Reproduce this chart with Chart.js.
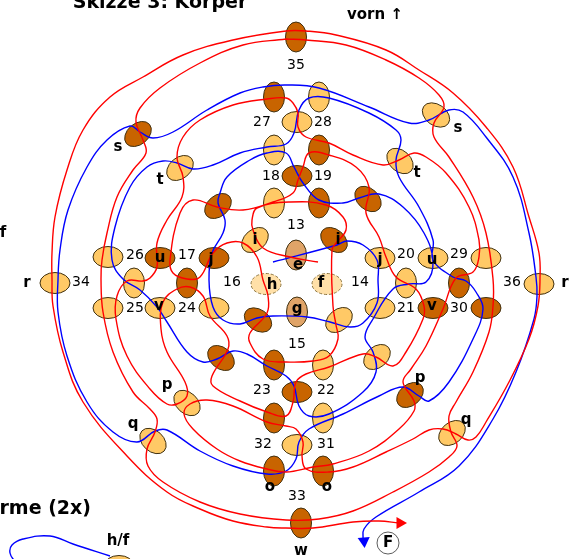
<!DOCTYPE html>
<html><head><meta charset="utf-8">
<style>html,body{margin:0;padding:0;background:#fff;overflow:hidden}canvas{display:block}</style>
<script src="https://cdn.jsdelivr.net/npm/chart.js@4"></script>
</head><body><canvas id="c" width="572" height="559"></canvas>
<script>
// stitches: [x, y, tilt in degrees]
const darkStitches=[[296,37,90],[274,97,90],[319,150,90],[297,176,0],[319,203,90],[138,134,-40],[218,206,-40],[368,199,42],[334,240,40],[160,258,0],[214,258,0],[187,283,90],[459,283,90],[433,308,0],[486,308,0],[258,320,35],[221,358,40],[274,365,90],[297,392,0],[274,418,90],[274,471,90],[323,471,90],[410,395,-40],[301,523,90]];
const lightStitches=[[319,97,90],[297,122,0],[274,150,90],[274,203,90],[436,115,35],[180,168,-40],[400,161,42],[255,240,-40],[108,257,0],[380,258,0],[433,258,0],[486,258,0],[55,283,0],[134,283,90],[406,283,90],[539,284,0],[108,308,0],[160,308,0],[214,308,0],[380,308,0],[339,320,-40],[377,357,-40],[323,365,90],[323,418,90],[297,445,0],[187,403,42],[153,441,42],[452,433,-40],[119,566,0]];
const midStitches=[[296,255,90],[297,312,90]];
const paleStitches=[[266,284,0],[327,284,0]];
// yarn paths
const redOuter=[[318,262],[290,257],[263,248],[253,230],[252,220],[257,208],[290,202],[326,205],[343,217],[346,230],[337,242],[332,250],[333,306],[336,325],[338,339],[329,356],[313,361],[286,362],[263,359],[250,343],[250,333],[267,313],[268,296],[263,280],[257,257],[243,243],[227,243],[213,253],[200,277],[187,279],[173,273],[170,260],[180,213],[193,200],[217,207],[243,210],[273,202],[293,193],[298,180],[303,167],[309,153],[329,155],[356,167],[369,187],[366,213],[379,237],[386,257],[396,277],[416,289],[424,306],[423,319],[406,352],[393,366],[376,357],[363,354],[329,367],[306,374],[296,382],[293,402],[286,416],[267,412],[240,401],[213,386],[212,376],[228,349],[227,336],[210,316],[203,296],[190,287],[177,289],[163,302],[161,329],[167,352],[185,382],[187,396],[177,404],[167,404],[150,389],[127,356],[116,319],[117,296],[127,281],[143,281],[150,278],[157,267],[157,243],[167,220],[182,197],[183,177],[177,157],[183,137],[200,120],[233,105],[267,99],[286,98],[293,103],[298,113],[298,127],[306,137],[329,143],[353,155],[383,165],[399,160],[414,153],[426,157],[446,173],[469,207],[479,240],[479,257],[473,272],[456,278],[443,309],[426,346],[411,369],[403,382],[414,401],[414,411],[399,429],[369,451],[333,464],[313,467],[286,472],[267,469],[240,461],[217,449],[193,429],[184,414],[190,404],[207,400],[233,406],[267,422],[286,426],[296,429],[303,442],[302,456],[306,469],[329,472],[353,467],[386,452],[413,439],[429,430],[443,429],[456,434],[468,440],[476,437],[486,422],[509,382],[529,339],[538,306],[540,279],[539,253],[529,217],[513,167],[486,127],[453,93],[419,70],[386,50],[336,35],[306,31],[286,31],[233,40],[183,55],[143,77],[110,97],[83,130],[67,170],[55,217],[52,253],[52,279],[53,306],[63,352],[83,402],[127,456],[167,492],[200,509],[233,521],[267,527],[286,528],[313,528],[353,522],[379,521],[399,523]];
const redInner=[[286,39],[243,45],[200,63],[160,88],[140,108],[136,122],[143,140],[146,153],[133,170],[117,197],[107,233],[102,260],[101,279],[103,312],[113,352],[133,392],[150,409],[157,419],[155,432],[147,449],[148,466],[163,482],[200,502],[240,514],[286,520],[319,519],[353,511],[393,492],[429,472],[449,457],[457,446],[451,432],[449,416],[456,402],[473,372],[489,332],[493,306],[493,279],[486,233],[473,197],[449,157],[434,137],[434,123],[444,107],[439,95],[419,78],[386,60],[346,45],[306,40],[286,39]];
const blueYarn=[[273,262],[337,245],[347,241],[363,245],[377,260],[378,280],[377,303],[363,323],[350,327],[330,322],[307,317],[273,316],[257,318],[240,324],[223,320],[213,307],[209,280],[212,253],[223,233],[225,220],[218,203],[220,193],[227,177],[250,160],[267,153],[286,153],[294,167],[303,183],[319,200],[343,203],[359,198],[379,194],[403,207],[424,233],[433,262],[426,282],[409,284],[393,289],[373,319],[365,337],[373,352],[376,372],[363,392],[329,414],[309,416],[299,406],[294,386],[286,376],[267,366],[247,354],[233,351],[217,359],[203,362],[187,352],[167,322],[157,307],[140,290],[123,279],[112,260],[115,227],[130,187],[147,167],[163,161],[177,163],[193,169],[213,165],[240,153],[267,147],[286,144],[294,133],[299,110],[309,98],[329,98],[369,113],[396,130],[401,140],[396,160],[399,177],[419,207],[433,240],[433,260],[453,277],[466,281],[476,292],[483,309],[473,339],[449,382],[429,401],[419,396],[403,387],[379,396],[343,414],[309,429],[299,442],[296,459],[286,471],[267,474],[233,466],[200,451],[167,430],[155,431],[137,442],[113,432],[87,402],[67,356],[58,312],[58,280],[60,250],[68,210],[87,167],[107,140],[130,126],[140,132],[153,138],[173,132],[207,110],[240,93],[263,87],[286,85],[319,88],[369,107],[409,123],[429,120],[449,110],[463,112],[486,137],[513,177],[529,233],[536,277],[537,296],[534,319],[516,372],[493,419],[459,466],[419,492],[376,517],[364,529],[363,539]];
const blueSmall=[[15,562],[10,553],[12,545],[23,539],[50,536],[73,544],[110,556]];
const redTip=[[400,523,90]];
const blueTip=[[364,541,175]];
const circleF=[[388,543]];
// text labels: [text, x, y]
const numberLabels=[["35",296,65],["27",262,122],["28",323,122],["18",271,176],["19",323,176],["13",296,225],["26",135,255],["17",187,255],["20",406,254],["29",459,254],["34",81,282],["16",232,282],["14",360,282],["36",512,282],["25",135,308],["24",187,308],["21",406,308],["30",459,308],["15",297,344],["23",262,390],["22",326,390],["32",263,444],["31",326,444],["33",297,496]];
const letterLabels=[["s",118,147],["t",160,180],["s",458,128],["t",417,173],["i",255,240],["i",338,240],["j",211,260],["j",380,260],["u",160,258],["u",432,260],["e",298,265],["h",272,285],["f",321,283],["g",297,309],["v",159,306],["v",432,306],["p",167,385],["p",420,378],["q",133,424],["q",466,420],["o",270,487],["o",327,487],["w",301,551],["f",3,233],["r",27,283],["r",565,283],["F",388,543],["h/f",118,541]];
const titleLabels=[["Skizze 3: Körper",160,3,19],["vorn ↑",375,15,15]];
const partLabel=["rme (2x)",91,509,19];

function stitch(fill,dashed,deg){
  const s=document.createElement('canvas');
  s.width=40;s.height=40;
  const g=s.getContext('2d');
  g.beginPath();g.ellipse(20,20,15,10.5,deg*Math.PI/180,0,Math.PI*2);
  g.fillStyle=fill;g.fill();
  g.lineWidth=1;g.strokeStyle=dashed?'#8a7440':'#3f3010';
  if(dashed)g.setLineDash([3,2]);
  g.stroke();
  return s;
}
const xy=a=>a.map(p=>({x:p[0],y:p[1]}));
const stitchSet=(arr,fill,dashed)=>({data:xy(arr),pointStyle:arr.map(p=>stitch(fill,dashed,p[2])),pointRadius:16,showLine:false,order:5,clip:false});
const yarn=(arr,col)=>({data:xy(arr),showLine:true,borderColor:col,borderWidth:1.4,pointRadius:0,tension:0.4,fill:false,order:2,borderJoinStyle:'round'});
const tip=(arr,col)=>({data:xy(arr),pointStyle:'triangle',pointRadius:7,pointRotation:arr.map(p=>p[2]),backgroundColor:col,borderColor:col,borderWidth:0,showLine:false,order:1});
const text={id:'text',afterDatasetsDraw(ch){
  const c=ch.ctx,X=ch.scales.x,Y=ch.scales.y;
  c.save();c.fillStyle='#000';c.textAlign='center';c.textBaseline='middle';
  c.font='14px "DejaVu Sans"';
  numberLabels.forEach(l=>c.fillText(l[0],X.getPixelForValue(l[1]),Y.getPixelForValue(l[2])));
  c.font='bold 15px "DejaVu Sans"';
  letterLabels.forEach(l=>c.fillText(l[0],X.getPixelForValue(l[1]),Y.getPixelForValue(l[2])));
  titleLabels.forEach(l=>{c.font='bold '+l[3]+'px "DejaVu Sans"';c.fillText(l[0],X.getPixelForValue(l[1]),Y.getPixelForValue(l[2]));});
  c.textAlign='right';c.font='bold '+partLabel[3]+'px "DejaVu Sans"';
  c.fillText(partLabel[0],X.getPixelForValue(partLabel[1]),Y.getPixelForValue(partLabel[2]));
  c.restore();
}};
new Chart(document.getElementById('c'),{
  type:'scatter',
  data:{datasets:[
    stitchSet(darkStitches,'#C86400'),
    stitchSet(lightStitches,'#FFC966'),
    stitchSet(midStitches,'#E0A468'),
    stitchSet(paleStitches,'#FFE0A8',true),
    yarn(redOuter,'#FF0000'),yarn(redInner,'#FF0000'),
    yarn(blueYarn,'#0000FF'),yarn(blueSmall,'#0000FF'),
    tip(redTip,'#FF0000'),tip(blueTip,'#0000FF'),
    {data:xy(circleF),pointStyle:'circle',pointRadius:11,backgroundColor:'#fff',borderColor:'#333',borderWidth:0.8,showLine:false,order:1}
  ]},
  options:{responsive:false,animation:false,events:[],
    layout:{padding:0,autoPadding:false},
    plugins:{legend:{display:false},tooltip:{enabled:false},title:{display:false}},
    scales:{x:{type:'linear',min:0,max:572,display:false},y:{type:'linear',min:0,max:559,reverse:true,display:false}}
  },
  plugins:[text]
});
</script></body></html>
